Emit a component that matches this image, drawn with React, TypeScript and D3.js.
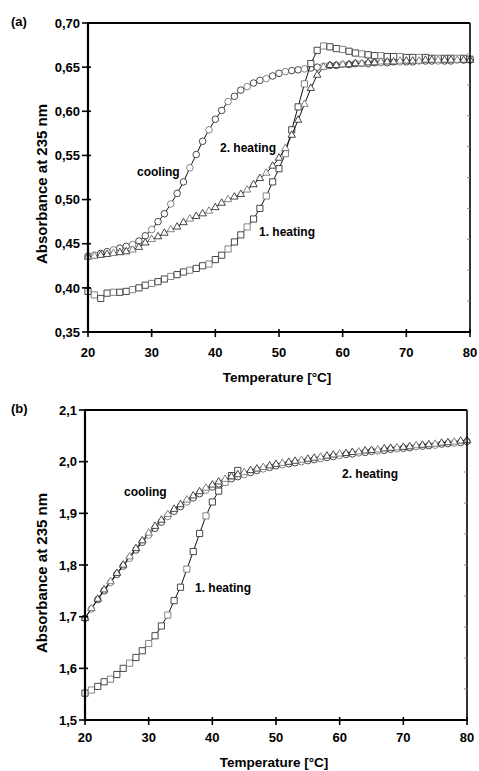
import React from "react";
import * as d3 from "d3";

const W = 479;
const H = 771;
const FONT = "'Liberation Sans', Arial, Helvetica, sans-serif";

// temperature grid (°C), one reading per degree
const temps = [
  20, 21, 22, 23, 24, 25, 26, 27, 28, 29, 30, 31, 32, 33, 34, 35, 36, 37, 38, 39, 40,
  41, 42, 43, 44, 45, 46, 47, 48, 49, 50, 51, 52, 53, 54, 55, 56, 57, 58, 59, 60,
  61, 62, 63, 64, 65, 66, 67, 68, 69, 70, 71, 72, 73, 74, 75, 76, 77, 78, 79, 80,
];

// panel (a)
const heating1A = [
  0.396, 0.392, 0.388, 0.394, 0.395, 0.395, 0.396, 0.398, 0.4, 0.403, 0.405,
  0.407, 0.41, 0.413, 0.415, 0.418, 0.42, 0.422, 0.425, 0.427, 0.432,
  0.437, 0.444, 0.452, 0.46, 0.469, 0.478, 0.49, 0.504, 0.52, 0.535,
  0.552, 0.579, 0.605, 0.631, 0.654, 0.669, 0.674, 0.673, 0.671, 0.67,
  0.668, 0.666, 0.665, 0.664, 0.663, 0.663, 0.662, 0.662, 0.662, 0.661,
  0.661, 0.661, 0.661, 0.66, 0.66, 0.66, 0.66, 0.66, 0.66, 0.659,
];
const heating2A = [
  0.435, 0.436, 0.437, 0.438, 0.439, 0.44, 0.441, 0.443, 0.446, 0.451, 0.455,
  0.458, 0.462, 0.466, 0.469, 0.474, 0.478, 0.481, 0.484, 0.487, 0.491,
  0.496, 0.5, 0.503, 0.506, 0.511, 0.517, 0.524, 0.53, 0.538, 0.547,
  0.558, 0.573, 0.59, 0.608, 0.626, 0.641, 0.65, 0.652, 0.652, 0.653,
  0.653, 0.654, 0.654, 0.655, 0.655, 0.656, 0.656, 0.656, 0.657, 0.657,
  0.657, 0.657, 0.658, 0.658, 0.658, 0.658, 0.658, 0.658, 0.658, 0.658,
];
const coolingA = [
  0.436, 0.437, 0.439, 0.441, 0.443, 0.445, 0.447, 0.449, 0.453, 0.459, 0.466,
  0.475, 0.484, 0.495, 0.507, 0.52, 0.536, 0.551, 0.566, 0.579, 0.591,
  0.601, 0.611, 0.617, 0.624, 0.628, 0.632, 0.635, 0.637, 0.64, 0.643,
  0.645, 0.646, 0.647, 0.648, 0.649, 0.65, 0.651, 0.652, 0.652, 0.653,
  0.653, 0.654, 0.654, 0.654, 0.655, 0.655, 0.655, 0.656, 0.656, 0.656,
  0.656, 0.657, 0.657, 0.657, 0.657, 0.657, 0.657, 0.658, 0.658, 0.658,
];

// panel (b)
const heating1BTemps = [
  20, 21, 22, 23, 24, 25, 26, 27, 28, 29, 30, 31, 32, 33, 34, 35, 36, 37, 38, 39, 40,
  41, 42, 43, 44,
];
const heating1B = [
  1.552, 1.558, 1.565, 1.574, 1.579, 1.588, 1.6, 1.61, 1.621, 1.634, 1.648,
  1.663, 1.682, 1.703, 1.731, 1.757, 1.792, 1.826, 1.861, 1.895, 1.922,
  1.943, 1.96, 1.973, 1.983,
];
const heating2B = [
  1.697, 1.716, 1.734, 1.752, 1.768, 1.784, 1.8, 1.816, 1.832, 1.847, 1.862,
  1.875, 1.887, 1.898, 1.908, 1.917, 1.926, 1.934, 1.942, 1.949, 1.955,
  1.961, 1.966, 1.971, 1.975, 1.979, 1.983, 1.986, 1.989, 1.992, 1.995,
  1.997, 1.999, 2.001, 2.003, 2.005, 2.007, 2.009, 2.011, 2.013, 2.015,
  2.016, 2.018, 2.019, 2.021, 2.022, 2.023, 2.025, 2.026, 2.027, 2.028,
  2.029, 2.031, 2.032, 2.033, 2.034, 2.036, 2.037, 2.038, 2.04, 2.041,
];
const coolingB = [
  1.697, 1.715, 1.733, 1.75, 1.766, 1.782, 1.798, 1.813, 1.829, 1.844, 1.858,
  1.871, 1.883, 1.894, 1.904, 1.913, 1.922, 1.93, 1.938, 1.945, 1.951,
  1.957, 1.962, 1.967, 1.971, 1.975, 1.979, 1.983, 1.986, 1.989, 1.992,
  1.994, 1.996, 1.998, 2.0, 2.002, 2.004, 2.006, 2.008, 2.01, 2.012,
  2.014, 2.015, 2.017, 2.018, 2.02, 2.021, 2.022, 2.024, 2.025, 2.026,
  2.027, 2.029, 2.03, 2.031, 2.032, 2.034, 2.035, 2.036, 2.037, 2.039,
];

const xTicks = [20, 30, 40, 50, 60, 70, 80];
const yTicksA = [0.35, 0.4, 0.45, 0.5, 0.55, 0.6, 0.65, 0.7];
const yTicksB = [1.5, 1.6, 1.7, 1.8, 1.9, 2.0, 2.1];

const symbols = {
  square: d3.symbol().type(d3.symbolSquare).size(38)(),
  circle: d3.symbol().type(d3.symbolCircle).size(34)(),
  triangle: d3.symbol().type(d3.symbolTriangle).size(24)(),
};

function Panel({ tag, box, yDomain, yTicks, decimals, series, labels, yTitleY, xTitleY, xTickY }) {
  const { left, right, top, bottom } = box;
  const x = d3.scaleLinear().domain([20, 80]).range([left, right]);
  const y = d3.scaleLinear().domain(yDomain).range([bottom, top]);
  const fmt = (v) => d3.format(`.${decimals}f`)(v).replace(".", ",");
  const line = d3
    .line()
    .x((d) => x(d[0]))
    .y((d) => y(d[1]));
  const rightTicks = d3.range(1, 10).map((i) => top + (i * (bottom - top)) / 10);

  return (
    <g>
      <text x={11} y={top + 3} fontSize={13} fontWeight="bold" fontFamily={FONT}>
        {tag}
      </text>

      {series.map((s, si) => {
        const pts = s.temps.map((t, i) => [t, s.values[i]]);
        return (
          <g key={si}>
            <path d={line(pts)} fill="none" stroke="#111" strokeWidth={1} />
            {pts.map((p, i) => (
              <path
                key={i}
                d={symbols[s.shape]}
                transform={`translate(${x(p[0])},${y(p[1])})`}
                fill="#fff"
                stroke={i % 3 === 1 ? "#777" : "#333"}
                strokeWidth={0.9}
              />
            ))}
          </g>
        );
      })}

      {/* frame */}
      <line x1={left} x2={right} y1={top} y2={top} stroke="#000" strokeWidth={2.2} />
      <line x1={right} x2={right} y1={top} y2={bottom} stroke="#000" strokeWidth={1.6} />
      <line x1={left} x2={left} y1={top - 1} y2={bottom + 1} stroke="#000" strokeWidth={2.2} />
      <line x1={left - 1} x2={right + 1} y1={bottom} y2={bottom} stroke="#000" strokeWidth={2.2} />
      {rightTicks.map((ty, i) => (
        <line key={i} x1={right - 3} x2={right} y1={ty} y2={ty} stroke="#888" strokeWidth={1} />
      ))}

      {yTicks.map((v) => (
        <g key={v}>
          <line x1={left - 6} x2={left + 3} y1={y(v)} y2={y(v)} stroke="#000" strokeWidth={1.6} />
          <text
            x={left - 8}
            y={y(v)}
            dy="0.36em"
            textAnchor="end"
            fontSize={13}
            fontWeight="bold"
            fontFamily={FONT}
          >
            {fmt(v)}
          </text>
        </g>
      ))}
      {xTicks.map((v) => (
        <g key={v}>
          <line x1={x(v)} x2={x(v)} y1={bottom - 3} y2={bottom + 5} stroke="#000" strokeWidth={1.6} />
          <text x={x(v)} y={xTickY} textAnchor="middle" fontSize={13} fontWeight="bold" fontFamily={FONT}>
            {v}
          </text>
        </g>
      ))}

      <text
        transform={`translate(47,${yTitleY}) rotate(-90)`}
        textAnchor="middle"
        fontSize={15}
        fontWeight="bold"
        fontFamily={FONT}
      >
        Absorbance at 235 nm
      </text>
      <text
        x={(left + right) / 2 - 2}
        y={xTitleY}
        textAnchor="middle"
        fontSize={13.5}
        fontWeight="bold"
        fontFamily={FONT}
      >
        Temperature [°C]
      </text>

      {labels.map((l) => (
        <text key={l.text} x={l.x} y={l.y} fontSize={12} fontWeight="bold" fontFamily={FONT}>
          {l.text}
        </text>
      ))}
    </g>
  );
}

export default function App() {
  return (
    <svg
      width={W}
      height={H}
      style={{ position: "absolute", left: 0, top: 0, background: "#fff" }}
    >
      <Panel
        tag="(a)"
        box={{ left: 88, right: 470, top: 23, bottom: 332 }}
        yDomain={[0.35, 0.7]}
        yTicks={yTicksA}
        decimals={2}
        xTickY={357}
        xTitleY={382}
        yTitleY={184}
        series={[
          { temps, values: coolingA, shape: "circle" },
          { temps, values: heating1A, shape: "square" },
          { temps, values: heating2A, shape: "triangle" },
        ]}
        labels={[
          { text: "cooling", x: 137, y: 176 },
          { text: "2. heating", x: 220, y: 152 },
          { text: "1. heating", x: 259, y: 236 },
        ]}
      />
      <Panel
        tag="(b)"
        box={{ left: 85, right: 467, top: 410, bottom: 720 }}
        yDomain={[1.5, 2.1]}
        yTicks={yTicksB}
        decimals={1}
        xTickY={742}
        xTitleY={767}
        yTitleY={573}
        series={[
          { temps, values: coolingB, shape: "circle" },
          { temps: heating1BTemps, values: heating1B, shape: "square" },
          { temps, values: heating2B, shape: "triangle" },
        ]}
        labels={[
          { text: "cooling", x: 124, y: 496 },
          { text: "2. heating", x: 342, y: 478 },
          { text: "1. heating", x: 195, y: 592 },
        ]}
      />
    </svg>
  );
}
